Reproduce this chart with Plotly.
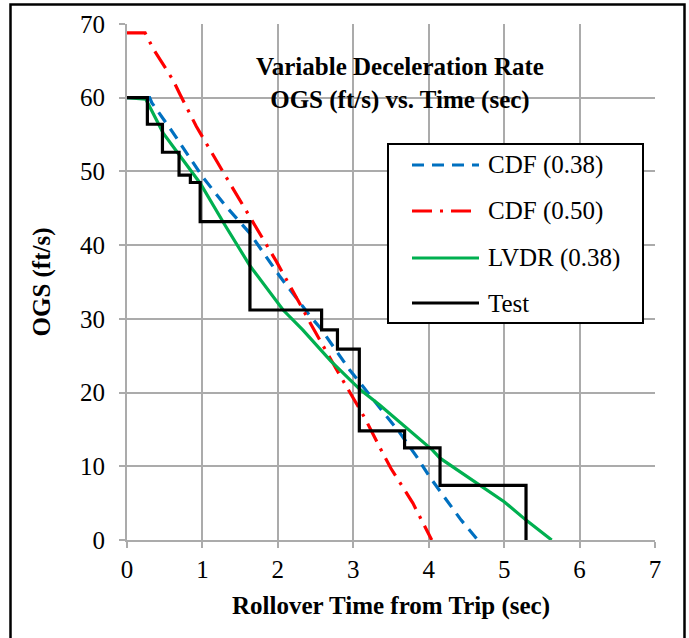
import plotly.graph_objects as go

# ---- data ----
cdf38_t = [0, 0.30, 0.33, 0.60, 1.00, 1.30, 1.63, 2.03, 2.45, 2.56, 2.95, 3.44, 3.62, 3.84, 4.01, 4.43, 4.65]
cdf38_v = [60, 60, 59.3, 55.4, 49.3, 45.4, 41.6, 35.7, 30.1, 28.8, 23.1, 16.7, 14.5, 11.3, 8.6, 2.7, 0]

cdf50_t = [0, 0.24, 0.35, 0.50, 0.61, 0.70, 0.92, 1.27, 1.63, 1.98, 2.31, 2.42, 2.78, 3.15, 3.39, 3.50, 3.79, 4.04]
cdf50_v = [68.8, 68.8, 66.6, 64.2, 62.4, 60.5, 56.1, 50.0, 43.9, 37.8, 31.7, 29.6, 23.1, 16.6, 11.8, 9.7, 5.0, 0]

lvdr_t = [0, 0.25, 0.48, 0.97, 1.30, 1.63, 2.07, 2.33, 2.70, 3.09, 3.35, 3.70, 4.05, 4.15, 4.68, 5.00, 5.29, 5.63]
lvdr_v = [60, 59.8, 55.2, 48.4, 42.7, 37.2, 31.2, 28.5, 24.3, 20.4, 18.3, 15.2, 12.2, 11.1, 7.5, 5.2, 2.7, 0]

test_t = [0, 0.27, 0.47, 0.69, 0.84, 0.97, 1.63, 2.58, 2.79, 3.08, 3.68, 4.15, 5.29]
test_v = [60, 56.4, 52.6, 49.5, 48.5, 43.2, 31.2, 28.5, 25.9, 14.8, 12.5, 7.4, 0]

x_ticks = [0, 1, 2, 3, 4, 5, 6, 7]
y_ticks = [0, 10, 20, 30, 40, 50, 60, 70]

legend_names = ["CDF (0.38)", "CDF (0.50)", "LVDR (0.38)", "Test"]
legend_colors = ["#0070C0", "#FF0000", "#00B050", "#000000"]
legend_dash = ["12px,8px", "20px,8px,3px,8px", "solid", "solid"]

FONT = "Liberation Serif, Times New Roman, serif"
FS = 25
W, H = 689, 638
ML, MR, MT, MB = 127, 34, 24, 98
PW, PH = W - ML - MR, H - MT - MB


def px(xp):
    return (xp - ML) / PW


def py(yp):
    return (H - MB - yp) / PH


fig = go.Figure()
series = [(cdf38_t, cdf38_v, "linear"), (cdf50_t, cdf50_v, "linear"),
          (lvdr_t, lvdr_v, "linear"), (test_t, test_v, "hv")]
for (t, v, shape), name, col, dash in zip(series, legend_names, legend_colors, legend_dash):
    fig.add_trace(go.Scatter(x=t, y=v, mode="lines", name=name, showlegend=False,
                             line=dict(color=col, width=3.2, dash=dash, shape=shape)))

shapes = []
annotations = []

# title box (white, covers gridlines)
shapes.append(dict(type="rect", xref="paper", yref="paper", layer="between",
                   x0=px(245), x1=px(553), y0=py(113), y1=py(61),
                   fillcolor="white", line=dict(width=0)))
annotations.append(dict(xref="paper", yref="paper", x=px(400), y=py(83),
                        text="<b>Variable Deceleration Rate<br>OGS (ft/s) vs. Time (sec)</b>",
                        showarrow=False, font=dict(family=FONT, size=FS, color="black"),
                        xanchor="center", yanchor="middle", align="center"))

# legend box
shapes.append(dict(type="rect", xref="paper", yref="paper", layer="above",
                   x0=px(388), x1=px(643), y0=py(323), y1=py(144),
                   fillcolor="white", line=dict(color="black", width=2)))
rows = [165, 211, 258, 303]
for yy, name, col, dash in zip(rows, legend_names, legend_colors, legend_dash):
    shapes.append(dict(type="line", xref="paper", yref="paper", layer="above",
                       x0=px(412), x1=px(479), y0=py(yy), y1=py(yy),
                       line=dict(color=col, width=3.2, dash=dash)))
    annotations.append(dict(xref="paper", yref="paper", x=px(486), y=py(yy),
                            text=name, showarrow=False, xanchor="left", yanchor="middle",
                            font=dict(family=FONT, size=FS, color="black")))

# outer frame
shapes.append(dict(type="rect", xref="paper", yref="paper", layer="above",
                   x0=px(10.5), x1=px(684.5), y0=py(645), y1=py(4.5),
                   line=dict(color="black", width=2.5), fillcolor="rgba(0,0,0,0)"))

axis_common = dict(showgrid=True, gridcolor="#ababab", gridwidth=2,
                   showline=True, linecolor="#ababab", linewidth=2,
                   ticks="outside", tickcolor="#ababab", ticklen=6, tickwidth=2,
                   zeroline=False, tickfont=dict(family=FONT, size=FS, color="black"))

fig.update_layout(
    width=W, height=H, margin=dict(l=ML, r=MR, t=MT, b=MB),
    paper_bgcolor="white", plot_bgcolor="white",
    shapes=shapes, annotations=annotations,
    xaxis=dict(range=[0, 7], tickvals=x_ticks, ticktext=[str(v) for v in x_ticks],
               title=dict(text="<b>Rollover Time from Trip (sec)</b>", standoff=14,
                          font=dict(family=FONT, size=FS, color="black")),
               ticklabelstandoff=0, **axis_common),
    yaxis=dict(range=[0, 70], tickvals=y_ticks, ticktext=[str(v) for v in y_ticks],
               title=dict(text="<b>OGS (ft/s)</b>", standoff=22,
                          font=dict(family=FONT, size=FS, color="black")),
               ticklabelstandoff=9, **axis_common),
)
fig.write_html("out.html")
